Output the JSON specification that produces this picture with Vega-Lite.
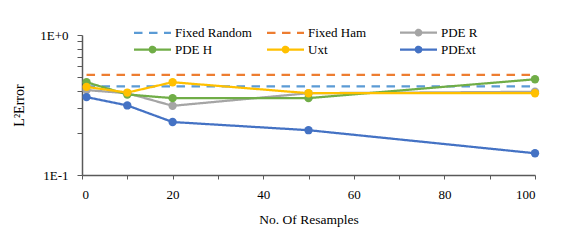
{
  "$schema": "https://vega.github.io/schema/vega-lite/v6.json",
  "width": 453,
  "height": 140,
  "autosize": {"type": "none"},
  "padding": {"left": 82, "top": 35, "right": 46, "bottom": 65},
  "background": "white",
  "config": {"view": {"stroke": null}, "font": "Liberation Serif"},
  "data": {
    "values": [
      {"series": "Fixed Random", "x": 1, "y": 0.429},
      {"series": "Fixed Random", "x": 10, "y": 0.429},
      {"series": "Fixed Random", "x": 20, "y": 0.429},
      {"series": "Fixed Random", "x": 50, "y": 0.429},
      {"series": "Fixed Random", "x": 100, "y": 0.429},
      {"series": "Fixed Ham", "x": 1, "y": 0.519},
      {"series": "Fixed Ham", "x": 10, "y": 0.519},
      {"series": "Fixed Ham", "x": 20, "y": 0.519},
      {"series": "Fixed Ham", "x": 50, "y": 0.519},
      {"series": "Fixed Ham", "x": 100, "y": 0.519},
      {"series": "PDE R", "x": 1, "y": 0.404},
      {"series": "PDE R", "x": 10, "y": 0.384},
      {"series": "PDE R", "x": 20, "y": 0.312},
      {"series": "PDE R", "x": 50, "y": 0.384},
      {"series": "PDE R", "x": 100, "y": 0.393},
      {"series": "PDE H", "x": 1, "y": 0.46},
      {"series": "PDE H", "x": 10, "y": 0.376},
      {"series": "PDE H", "x": 20, "y": 0.354},
      {"series": "PDE H", "x": 50, "y": 0.354},
      {"series": "PDE H", "x": 100, "y": 0.483},
      {"series": "Uxt", "x": 1, "y": 0.426},
      {"series": "Uxt", "x": 10, "y": 0.388},
      {"series": "Uxt", "x": 20, "y": 0.46},
      {"series": "Uxt", "x": 50, "y": 0.384},
      {"series": "Uxt", "x": 100, "y": 0.384},
      {"series": "PDExt", "x": 1, "y": 0.36},
      {"series": "PDExt", "x": 10, "y": 0.314},
      {"series": "PDExt", "x": 20, "y": 0.239},
      {"series": "PDExt", "x": 50, "y": 0.209},
      {"series": "PDExt", "x": 100, "y": 0.143}
    ]
  },
  "layer": [
    {
      "mark": {"type": "line", "strokeWidth": 2.25},
      "encoding": {
        "x": {
          "field": "x", "type": "quantitative",
          "scale": {"domain": [0, 100], "nice": false, "zero": false},
          "axis": {
            "values": [0, 10, 20, 30, 40, 50, 60, 70, 80, 90, 100],
            "labelExpr": "datum.value % 20 == 0 ? datum.label : ''",
            "grid": false, "tickSize": 4, "domainColor": "#595959", "tickColor": "#595959", "domainWidth": 1.5,
            "labelFont": "Liberation Serif", "labelFontSize": 13, "labelColor": "#000000", "labelPadding": 9,
            "title": "No. Of Resamples", "titleFont": "Liberation Serif", "titleFontSize": 13.5, "titleFontWeight": "normal", "titleColor": "#000000", "titlePadding": 11
          }
        },
        "y": {
          "field": "y", "type": "quantitative",
          "scale": {"type": "log", "domain": [0.1, 1], "nice": false},
          "axis": {
            "values": [0.1, 0.2, 0.3, 0.4, 0.5, 0.6, 0.7, 0.8, 0.9, 1],
            "labelExpr": "datum.value == 1 ? '1E+0' : (datum.value == 0.1 ? '1E-1' : '')",
            "grid": false, "tickSize": 5, "domainColor": "#595959", "tickColor": "#595959", "domainWidth": 1.5,
            "labelFont": "Liberation Serif", "labelFontSize": 13, "labelColor": "#000000", "labelPadding": 9,
            "title": "L²Error", "titleFont": "Liberation Serif", "titleFontSize": 14, "titleFontWeight": "normal", "titleColor": "#000000", "titlePadding": 13
          }
        },
        "color": {
          "field": "series", "type": "nominal",
          "scale": {
            "domain": ["Fixed Random", "Fixed Ham", "PDE R", "PDE H", "Uxt", "PDExt"],
            "range": ["#5B9BD5", "#ED7D31", "#A5A5A5", "#70AD47", "#FFC000", "#4472C4"]
          },
          "legend": {
            "title": null, "orient": "none", "legendX": 64, "legendY": -9, "direction": "horizontal",
            "columns": 3, "gridAlign": "all", "columnPadding": 10,
            "symbolSize": 100, "symbolStrokeWidth": 2.25, "labelOffset": 16,
            "labelFont": "Liberation Serif", "labelFontSize": 13, "labelColor": "#000000",
            "encode": {
              "symbols": {
                "update": {
                  "shape": {"signal": "indexof(datum.value, 'Fixed') == 0 ? 'M-3.7,0H3.7' : 'M-3.7,0H3.7M0.55,0A0.55,0.55,0,1,1,-0.55,0A0.55,0.55,0,1,1,0.55,0Z'"},
                  "strokeDash": {"signal": "indexof(datum.value, 'Fixed') == 0 ? [7.5, 6] : [1, 0]"},
                  "fill": {"signal": "scale('color', datum.value)"},
                  "stroke": {"signal": "scale('color', datum.value)"},
                  "opacity": {"value": 1}
                }
              }
            }
          }
        },
        "strokeDash": {
          "field": "series", "type": "nominal",
          "scale": {
            "domain": ["Fixed Random", "Fixed Ham", "PDE R", "PDE H", "Uxt", "PDExt"],
            "range": [[8.5, 6.5], [8.5, 6.5], [1, 0], [1, 0], [1, 0], [1, 0]]
          },
          "legend": null
        }
      }
    },
    {
      "transform": [{"filter": "indexof(datum.series, 'Fixed') < 0"}],
      "mark": {"type": "point", "filled": true, "size": 70, "opacity": 1},
      "encoding": {
        "x": {"field": "x", "type": "quantitative"},
        "y": {"field": "y", "type": "quantitative"},
        "color": {"field": "series", "type": "nominal"}
      }
    }
  ]
}
